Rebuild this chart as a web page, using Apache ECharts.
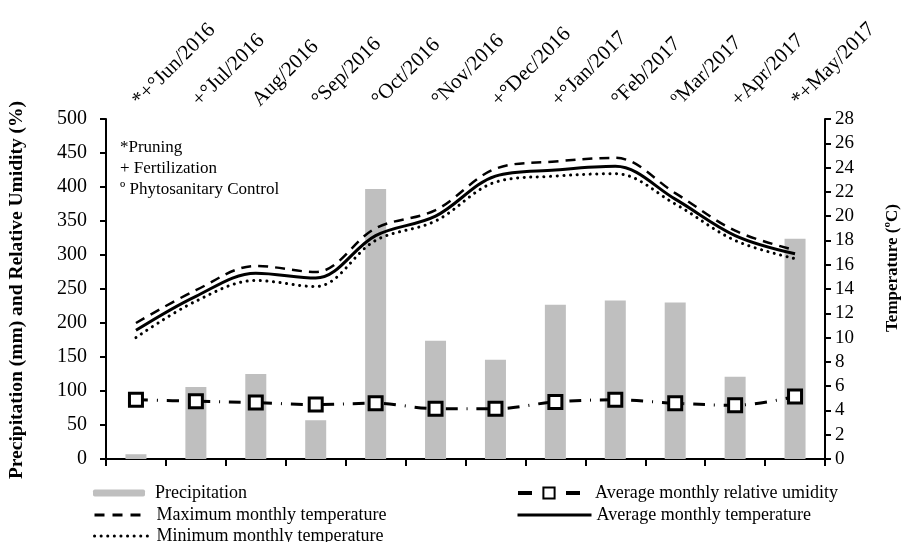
<!DOCTYPE html>
<html>
<head>
<meta charset="utf-8">
<script src="https://cdn.jsdelivr.net/npm/echarts@6/dist/echarts.min.js"></script>
<style>html,body{margin:0;padding:0;background:#fff}#c{width:906px;height:542px}</style>
</head>
<body>
<div id="c"></div>
<script>
var months = ["Jun/2016","Jul/2016","Aug/2016","Sep/2016","Oct/2016","Nov/2016","Dec/2016","Jan/2017","Feb/2017","Mar/2017","Apr/2017","May/2017"];
var topLabels = ["*+°Jun/2016","+°Jul/2016","Aug/2016","°Sep/2016","°Oct/2016","°Nov/2016","+°Dec/2016","+°Jan/2017","°Feb/2017","ºMar/2017","+Apr/2017","*+May/2017"];
var precipitation = [7, 106, 125, 57, 397, 174, 146, 227, 233, 230, 121, 324];
var humidity = [87, 85, 83, 80, 82, 74, 74, 84, 87, 82, 79, 92];
var maxTemp = [11.2, 13.9, 15.9, 15.4, 19.0, 20.5, 23.9, 24.5, 24.8, 21.9, 18.8, 17.2];
var avgTemp = [10.6, 13.4, 15.3, 14.9, 18.4, 20.0, 23.3, 23.8, 24.1, 21.4, 18.4, 16.9];
var minTemp = [10.0, 13.0, 14.7, 14.2, 18.0, 19.6, 22.8, 23.3, 23.5, 21.0, 18.0, 16.5];
var leftTicks = {min: 0, max: 500, interval: 50};
var rightTicks = {min: 0, max: 28, interval: 2};

var FONT = "Liberation Serif";
var chart = echarts.init(document.getElementById('c'), null, {renderer: 'canvas'});

function legendAt(name, left, centerY, w, h, textPad, extra) {
  var l = {
    data: [name], left: left, top: centerY - 10, orient: 'horizontal',
    itemWidth: w, itemHeight: h, itemGap: 0, padding: 0,
    selectedMode: false,
    textStyle: {fontFamily: FONT, fontSize: 18, lineHeight: 20, color: '#000', padding: [0, 0, 0, textPad]}
  };
  if (extra) { for (var k in extra) l[k] = extra[k]; }
  return l;
}
var clearSym = {color: 'rgba(0,0,0,0)', borderColor: 'rgba(0,0,0,0)', borderWidth: 0};

var option = {
  animation: false,
  backgroundColor: '#fff',
  textStyle: {fontFamily: FONT},
  grid: {left: 106, right: 81, top: 119, bottom: 83, containLabel: false},
  legend: [
    legendAt('Precipitation', 93, 493, 52, 7, 5, null),
    legendAt('Maximum monthly temperature', 93, 515, 52, 14, 5, {itemStyle: clearSym, lineStyle: {width: 3, type: [10, 8]}}),
    legendAt('Minimum monthly temperature', 93, 536, 54, 14, 3, {itemStyle: clearSym, lineStyle: {width: 3, type: [0.1, 6.5], cap: 'round'}}),
    legendAt('Average monthly relative umidity', 516, 493, 62, 14, 10, {lineStyle: {type: [14, 34, 14], width: 4}}),
    legendAt('Average monthly temperature', 516, 515, 74, 14, 0, {itemStyle: clearSym, lineStyle: {width: 3, type: 'solid'}})
  ],
  xAxis: [
    {
      type: 'category', data: months, position: 'bottom', boundaryGap: true,
      axisLine: {show: true, lineStyle: {color: '#000', width: 2}},
      axisTick: {show: true, interval: 0, length: 7, lineStyle: {color: '#000', width: 2}},
      axisLabel: {show: false, interval: 0}
    },
    {
      type: 'category', data: topLabels, position: 'top', boundaryGap: true,
      axisLine: {show: false}, axisTick: {show: false},
      axisLabel: {show: true, rotate: 45, margin: 16, interval: 0, fontFamily: FONT, fontSize: 21, color: '#000'}
    }
  ],
  yAxis: [
    {
      type: 'value', position: 'left', min: leftTicks.min, max: leftTicks.max, interval: leftTicks.interval,
      axisLine: {show: true, lineStyle: {color: '#000', width: 2}},
      axisTick: {show: true, length: 6, lineStyle: {color: '#000', width: 2}},
      splitLine: {show: false},
      axisLabel: {margin: 19, fontFamily: FONT, fontSize: 20, color: '#000'}
    },
    {
      type: 'value', position: 'right', min: rightTicks.min, max: rightTicks.max, interval: rightTicks.interval,
      axisLine: {show: true, lineStyle: {color: '#000', width: 2}},
      axisTick: {show: true, length: 6, lineStyle: {color: '#000', width: 2}},
      splitLine: {show: false},
      axisLabel: {margin: 10, fontFamily: FONT, fontSize: 19, color: '#000'}
    }
  ],
  graphic: [
    {type: 'text', left: 120, top: 137, style: {text: '*Pruning\n+ Fertilization\nº Phytosanitary Control', font: '17px "Liberation Serif"', fill: '#000', lineHeight: 21}},
    {type: 'text', x: 17, y: 290, rotation: Math.PI / 2, style: {text: 'Precipitation (mm) and Relative Umidity (%)', font: 'bold 19.5px "Liberation Serif"', fill: '#000', align: 'center', verticalAlign: 'middle'}},
    {type: 'text', x: 893, y: 268, rotation: Math.PI / 2, style: {text: 'Temperature (ºC)', font: 'bold 17px "Liberation Serif"', fill: '#000', align: 'center', verticalAlign: 'middle'}}
  ],
  series: [
    {
      name: 'Precipitation', type: 'bar', xAxisIndex: 0, yAxisIndex: 0, data: precipitation,
      barWidth: 21, itemStyle: {color: '#BFBFBF'}, z: 1
    },
    {
      name: 'Maximum monthly temperature', type: 'line', xAxisIndex: 0, yAxisIndex: 1, data: maxTemp,
      smooth: 0.35, symbol: 'none', lineStyle: {color: '#000', width: 2.5, type: [10, 7]}, itemStyle: {color: '#000'}, z: 3
    },
    {
      name: 'Minimum monthly temperature', type: 'line', xAxisIndex: 0, yAxisIndex: 1, data: minTemp,
      smooth: 0.35, symbol: 'none', lineStyle: {color: '#000', width: 3, type: [0.1, 6.5], cap: 'round'}, itemStyle: {color: '#000'}, z: 3
    },
    {
      name: 'Average monthly relative umidity', type: 'line', xAxisIndex: 0, yAxisIndex: 0, data: humidity,
      smooth: 0.35, symbol: 'rect', symbolSize: 13,
      lineStyle: {color: '#000', width: 3, type: [12, 9, 1, 9], cap: 'butt'},
      itemStyle: {color: '#fff', borderColor: '#000', borderWidth: 3}, z: 4
    },
    {
      name: 'Average monthly temperature', type: 'line', xAxisIndex: 0, yAxisIndex: 1, data: avgTemp,
      smooth: 0.35, symbol: 'none', lineStyle: {color: '#000', width: 3}, itemStyle: {color: '#000'}, z: 3
    }
  ]
};
chart.setOption(option);
</script>
</body>
</html>
